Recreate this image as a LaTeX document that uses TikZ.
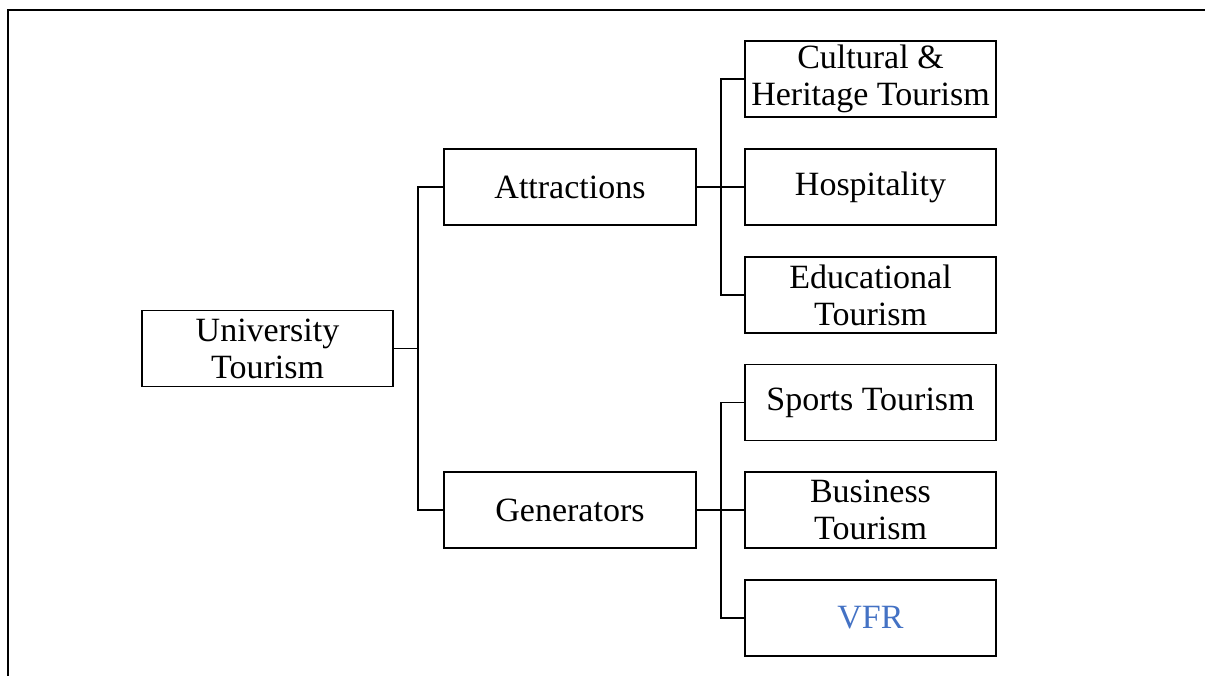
\documentclass[tikz,border=0pt]{standalone}
\usepackage{fontspec}
\setmainfont{Liberation Serif}
\usepackage{tikz}
\definecolor{vfrblue}{RGB}{68,114,196}
\tikzset{box/.style={draw, line width=1.4pt, minimum width=252pt, minimum height=76pt,
    inner sep=0pt, align=center, font=\fontsize{34}{37}\selectfont}}
\tikzset{link/.style={line width=1.4pt}}

\begin{document}
\begin{tikzpicture}[x=1pt,y=-1pt]
                \useasboundingbox (0,0) rectangle (1205,676);
                % open frame
                \draw[line width=1.6pt] (8,676) -- (8,10) -- (1205,10);

                % Root and first level
                \node[box, minimum width=251pt] (uni) at (267.5,348.5) {University\\Tourism};
                \node[box] (attr) at (570,187) {Attractions};
                \node[box] (gen) at (570,510) {Generators};

                % Second level
                \node[box, minimum width=251pt] (cult) at (870.5,79) {Cultural \&\\Heritage Tourism};
                \node[box, minimum width=251pt] (hosp) at (870.5,187) {Hospitality};
                \node[box, minimum width=251pt] (edu) at (870.5,295) {Educational\\Tourism};
                \node[box, minimum width=251pt] (sport) at (870.5,402.5) {Sports Tourism};
                \node[box, minimum width=251pt] (bus) at (870.5,510) {Business\\Tourism};
                \node[box, minimum width=251pt, text=vfrblue] (vfr) at (870.5,618) {VFR};

                % Connectors
                \coordinate (t1) at (418,348.5);
                \coordinate (t2) at (721,187);
                \coordinate (t3) at (721,510);
                \draw[link] (uni.east) -- (t1);
                \draw[link] (attr.west) -| (t1) |- (gen.west);

                \draw[link] (attr.east) -- (hosp.west);
                \draw[link] (cult.west) -| (t2) |- (edu.west);

                \draw[link] (gen.east) -- (bus.west);
                \draw[link] (sport.west) -| (t3) |- (vfr.west);
            \end{tikzpicture}
\end{document}
